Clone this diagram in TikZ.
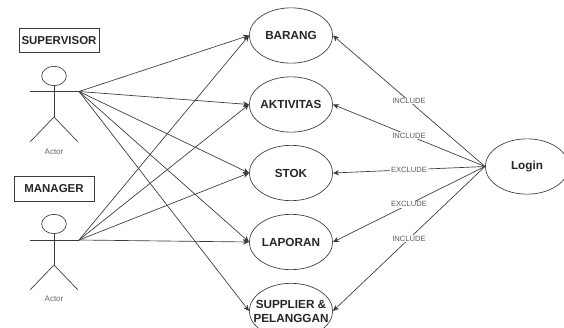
\documentclass[tikz,border=0pt]{standalone}
\usepackage{fontspec}
\setmainfont{Liberation Sans}
\usetikzlibrary{shapes.geometric,arrows.meta}
\definecolor{ln}{HTML}{3A3A3A}
\tikzset{
  uc/.style={draw=ln,ellipse,line width=0.5pt,minimum width=62.5pt,minimum height=41.5pt,inner sep=-8pt,align=center,font=\bfseries\fontsize{8.8}{10.5}\selectfont,text=black!85},
  lbl/.style={draw=ln,line width=0.5pt,minimum width=60pt,minimum height=18.5pt,inner sep=0pt,font=\bfseries\fontsize{8.6}{10}\selectfont,text=black!85},
  act/.style={font=\fontsize{6}{7}\selectfont,text=black!60,inner sep=0pt},
  edgetxt/.style={font=\fontsize{5.7}{7}\selectfont,text=black!65,fill=white,inner sep=0.6pt},
  conn/.style={draw=ln,line width=0.5pt,-{Stealth[length=4.5pt,width=4pt]}},
  fig/.style={draw=ln,line width=0.5pt}
}
\begin{document}
\begin{tikzpicture}[x=0.75pt,y=-0.75pt]
\useasboundingbox (0,0) rectangle (564,328);
\begin{scope}
\clip (0,0) rectangle (564,328);
\node[uc] (b) at (291,35.5) {BARANG};
\node[uc] (a) at (291,104.5) {AKTIVITAS};
\node[uc] (s) at (291,173) {STOK};
\node[uc] (p) at (291,242) {LAPORAN};
\node[uc] (u) at (291,311) {SUPPLIER \&\\PELANGGAN};
\node[uc,font=\bfseries\fontsize{8.8}{10}\selectfont] (l) at (527,166.5) {Login};
\node[lbl] (sv) at (59,40.5) {SUPERVISOR};
\node[lbl] (mg) at (54,189) {MANAGER};
% supervisor actor
\node[draw=ln,ellipse,line width=0.5pt,minimum width=18.5pt,minimum height=14.5pt,inner sep=0pt] (h1) at (54,76) {};
\coordinate (sl) at (30,91.5);
\coordinate (sr) at (79,91.5);
\coordinate (sh) at (54,117);
\coordinate (sll) at (30,142);
\coordinate (slr) at (78,142);
\draw[fig] (sl) -- (sr);
\draw[fig] (h1.south) -- (sh);
\draw[fig] (sll) -- (sh) -- (slr);
\node[act] (t1) at (54,152) {Actor};
% manager actor
\node[draw=ln,ellipse,line width=0.5pt,minimum width=18.5pt,minimum height=14.5pt,inner sep=0pt] (h2) at (54,224) {};
\coordinate (ml) at (30,240);
\coordinate (mr) at (79,240);
\coordinate (mh) at (54,265);
\coordinate (mll) at (30,290);
\coordinate (mlr) at (78,290);
\draw[fig] (ml) -- (mr);
\draw[fig] (h2.south) -- (mh);
\draw[fig] (mll) -- (mh) -- (mlr);
\node[act] (t2) at (54,299) {Actor};
% connectors
\foreach \t in {b,a,s,p} {\draw[conn] (sr) -- (\t.west); \draw[conn] (mr) -- (\t.west);}
\draw[conn] (sr) -- (u.west);
\draw[conn] (l.west) -- node[edgetxt,pos=0.5] {INCLUDE} (b.east);
\draw[conn] (l.west) -- node[edgetxt,pos=0.5] {INCLUDE} (a.east);
\draw[conn] (l.west) -- node[edgetxt,pos=0.5] {EXCLUDE} (s.east);
\draw[conn] (l.west) -- node[edgetxt,pos=0.5] {EXCLUDE} (p.east);
\draw[conn] (l.west) -- node[edgetxt,pos=0.5] {INCLUDE} (u.east);
\end{scope}
\end{tikzpicture}
\end{document}
